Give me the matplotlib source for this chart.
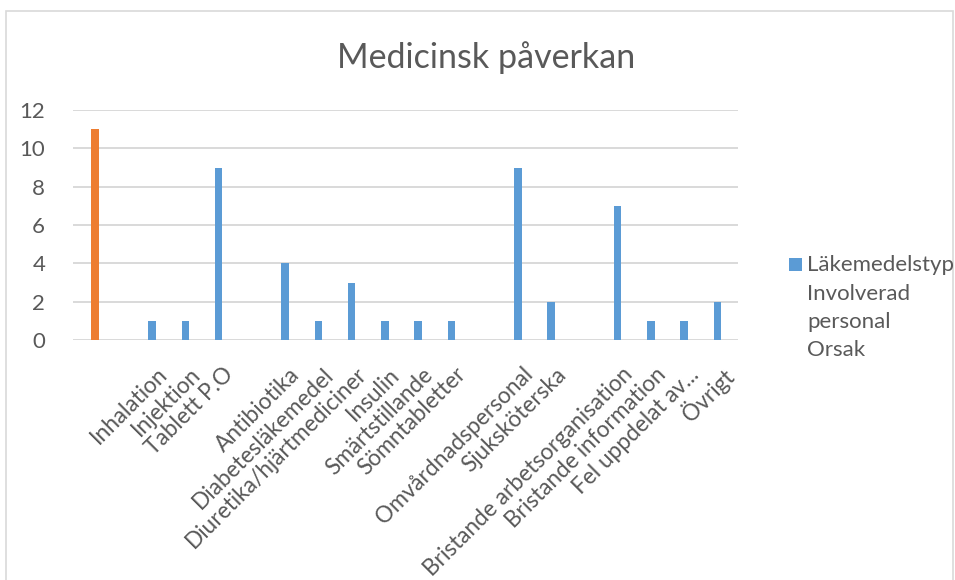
import matplotlib
matplotlib.use("Agg")
import matplotlib.pyplot as plt
from matplotlib.patches import Rectangle
import numpy as np

categories = ["", "", "Inhalation", "Injektion", "Tablett P.O", "", "Antibiotika",
              "Diabetesläkemedel", "Diuretika/hjärtmediciner", "Insulin", "Smärtstillande",
              "Sömntabletter", "", "Omvårdnadspersonal", "Sjuksköterska", "",
              "Bristande arbetsorganisation", "Bristande information", "Fel uppdelat av...", "Övrigt"]
lakemedelstyp = [0, 0, 1, 1, 9, 0, 4, 1, 3, 1, 1, 1, 0, 9, 2, 0, 7, 1, 1, 2]
involverad = [11, 0, 0, 0, 0, 0, 0, 0, 0, 0, 0, 0, 0, 0, 0, 0, 0, 0, 0, 0]
yticks = [0, 2, 4, 6, 8, 10, 12]
legend_labels = ["Läkemedelstyp", "Involverad", "personal", "Orsak"]

BLUE = "#5B9BD5"
ORANGE = "#ED7D31"
GRID = "#D9D9D9"
TXT = "#595959"
FONT = ["Lato", "DejaVu Sans"]
plt.rcParams["font.family"] = FONT

W, H = 955, 580
fig = plt.figure(figsize=(W / 100, H / 100), dpi=100)
fig.patch.set_facecolor("white")
ax = fig.add_axes([73 / W, 1 - 340 / H, (738 - 73) / W, (340 - 110) / H])

x = np.arange(len(categories))
bw = 0.225
bl = [v if v else np.nan for v in lakemedelstyp]
ob = [v if v else np.nan for v in involverad]
ax.bar(x - 0.12, bl, width=bw, color=BLUE, zorder=3)
ax.bar(x + 0.155, ob, width=bw, color=ORANGE, zorder=3)

ax.set_xlim(-0.5, len(categories) - 0.5)
ax.set_ylim(0, 12)
ax.set_yticks(yticks)
ax.set_yticklabels([str(t) for t in yticks], fontsize=16, color=TXT)
ax.yaxis.grid(True, color=GRID, lw=1.4, zorder=0)
ax.tick_params(axis="y", length=0, pad=20)
ax.set_xticks(x)
ax.set_xticklabels(categories, rotation=45, ha="right", rotation_mode="anchor",
                   fontsize=16.3, color=TXT)
ax.tick_params(axis="x", length=0, pad=17)
for s in ax.spines.values():
    s.set_visible(False)

fig.text(486 / W, 1 - 58 / H, "Medicinsk påverkan", ha="center", va="center",
         fontsize=24.5, color=TXT)

# legend
fig.patches.append(Rectangle((789 / W, 1 - 271 / H), 13 / W, 13 / H,
                             transform=fig.transFigure, facecolor=BLUE, edgecolor="none"))
for i, lab in enumerate(legend_labels):
    fig.text(807 / W, 1 - (265 + i * 28.5) / H, lab, ha="left", va="center",
             fontsize=16, color=TXT)

# outer border
fig.patches.append(Rectangle((6 / W, -0.05), (953 - 6) / W, 1.05 - 11 / H,
                             transform=fig.transFigure, facecolor="none",
                             edgecolor=GRID, lw=1.2))

fig.savefig("out.png", dpi=100)
